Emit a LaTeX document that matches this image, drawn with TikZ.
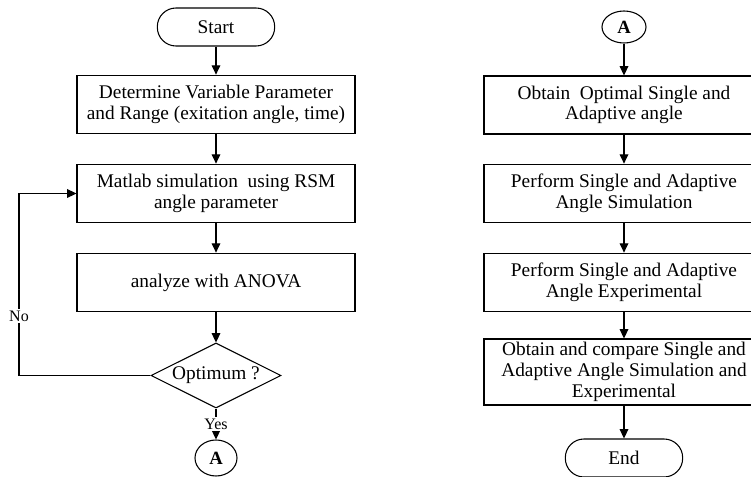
\documentclass[tikz,border=0pt]{standalone}
\usepackage{fontspec}
\setmainfont{Liberation Serif}
\usetikzlibrary{shapes.geometric,arrows.meta}
\begin{document}
\begin{tikzpicture}[x=0.75pt,y=-0.75pt,
  every node/.style={font=\fontsize{14.5}{15.5}\selectfont},
  box/.style={draw,line width=0.8pt,align=center,inner sep=0pt},
  lbox/.style={box,minimum width=208.5pt,minimum height=44pt},
  rbox/.style={box,minimum width=210pt,minimum height=44pt},
  term/.style={draw,line width=0.8pt,rounded corners=14pt,minimum width=88pt,minimum height=28.5pt,inner sep=0pt},
  conn/.style={draw,ellipse,line width=0.8pt,inner sep=0pt,font=\fontsize{14}{15.5}\selectfont\bfseries},
  arr/.style={line width=0.9pt,-{Triangle[width=6.5pt,length=7pt]}},
  lab/.style={fill=white,inner sep=1pt,font=\fontsize{12}{13}\selectfont}]
\clip (0,0) rectangle (751,477);
\fill[white] (0,0) rectangle (751,477);
% left column
\node[term] (start) at (216,27) {Start};
\node[lbox] (b1) at (216,104.5) {Determine Variable Parameter\\and Range (exitation angle, time)};
\node[lbox] (b2) at (216,193.5) {Matlab simulation\ \ using RSM\\angle parameter};
\node[lbox] (b3) at (216,282.5) {analyze with ANOVA};
\node[draw,diamond,line width=0.8pt,aspect=2,inner sep=0pt,minimum width=97.5pt,minimum height=48.75pt] (d) at (216,375.5) {Optimum ?};
\node[conn,minimum width=31.5pt,minimum height=27pt] (aL) at (216,458) {A};
\coordinate (lp) at (19,0);
\draw[arr] (start) -- (b1);
\draw[arr] (b1) -- (b2);
\draw[arr] (b2) -- (b3);
\draw[arr] (b3) -- (d);
\draw[arr] (d) -- node[lab,pos=0.5] {Yes} (aL);
\draw[arr] (d.west) -| (lp |- b2.west) -- (b2.west);
\node[lab] (no) at (19,316) {No};
% right column
\node[conn,minimum width=33pt,minimum height=24pt] (aR) at (624,27) {A};
\node[rbox,minimum height=43.5pt] (r1) at (624,105) {Obtain\ \ Optimal Single and\\Adaptive angle};
\node[rbox] (r2) at (624,193.5) {Perform Single and Adaptive\\Angle Simulation};
\node[rbox] (r3) at (624,282.5) {Perform Single and Adaptive\\Angle Experimental};
\node[rbox,minimum height=49.5pt] (r4) at (624,372) {Obtain and compare Single and\\Adaptive Angle Simulation and\\Experimental};
\node[term] (end) at (624,458) {End};
\draw[arr] (aR) -- (r1);
\draw[arr] (r1) -- (r2);
\draw[arr] (r2) -- (r3);
\draw[arr] (r3) -- (r4);
\draw[arr] (r4) -- (end);
\end{tikzpicture}
\end{document}
